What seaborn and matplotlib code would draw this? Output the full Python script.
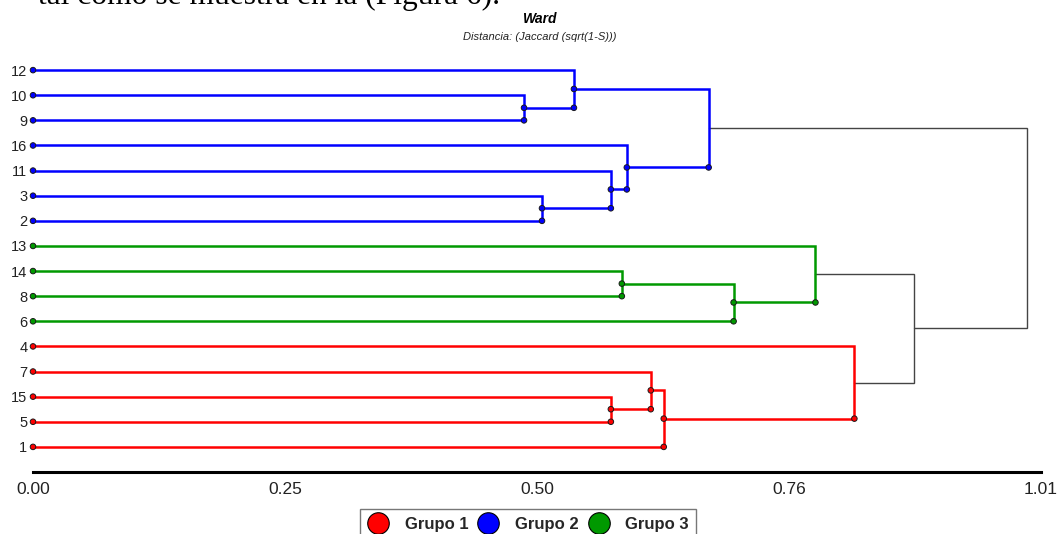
import numpy as np
import pandas as pd
import matplotlib
matplotlib.use("Agg")
import matplotlib.pyplot as plt
import seaborn as sns
from matplotlib.lines import Line2D

# ---------------- data ----------------
leaf_labels = ["12", "10", "9", "16", "11", "3", "2", "13", "14", "8", "6", "4", "7", "15", "5", "1"]
leaf_groups = ["Grupo 2"] * 7 + ["Grupo 3"] * 4 + ["Grupo 1"] * 5

node_ids    = ["A", "B", "C", "D", "E", "F", "G", "H", "I", "J", "K", "L", "M", "N", "O"]
node_left   = ["10", "12", "3", "11", "16", "B", "14", "G", "13", "15", "7", "K", "4", "I", "F"]
node_right  = ["9", "A", "2", "C", "D", "E", "8", "6", "H", "5", "J", "1", "L", "M", "N"]
node_height = [0.492, 0.542, 0.510, 0.579, 0.595, 0.677, 0.590, 0.702, 0.784,
               0.579, 0.619, 0.632, 0.823, 0.883, 0.996]

tick_values = [0.0, 0.2525, 0.505, 0.7575, 1.01]
tick_labels = ["0.00", "0.25", "0.50", "0.76", "1.01"]

group_names  = ["Grupo 1", "Grupo 2", "Grupo 3"]
group_colors = ["#ff0000", "#0000ff", "#009900"]
link_color = "#444444"

title_text = "Ward"
subtitle_text = "Distancia: (Jaccard (sqrt(1-S)))"
page_text = "tal como se muestra en la (Figura 6)."

# ---------------- geometry from the tree ----------------
pos = {lab: (0.0, float(i)) for i, lab in enumerate(leaf_labels)}
grp = {lab: g for lab, g in zip(leaf_labels, leaf_groups)}
parent = {}
for nid, l, r in zip(node_ids, node_left, node_right):
    parent[l] = nid
    parent[r] = nid

segs = []
for nid, l, r, h in zip(node_ids, node_left, node_right, node_height):
    (xl, yl), (xr, yr) = pos[l], pos[r]
    g = grp[l] if grp[l] == grp[r] else "link"
    grp[nid] = g
    pos[nid] = (h, (yl + yr) / 2)
    for k, (x, y) in enumerate([(xl, yl), (h, yl), (h, yr), (xr, yr)]):
        segs.append({"seg": nid, "order": k, "x": x, "y": y, "grp": g})
seg_df = pd.DataFrame(segs)

dots = [{"x": 0.0, "y": float(i), "grp": g} for i, g in enumerate(leaf_groups)]
for nid, l, r, h in zip(node_ids, node_left, node_right, node_height):
    g = grp[nid]
    if g == "link":
        continue
    dots.append({"x": h, "y": pos[r][1], "grp": g})
    par = parent.get(nid)
    if par is not None and grp[par] != "link":
        dots.append({"x": h, "y": pos[nid][1], "grp": g})
dot_df = pd.DataFrame(dots)

palette = dict(zip(group_names, group_colors))

# ---------------- plot ----------------
sns.set_style("white")
plt.rcParams["font.family"] = ["Liberation Sans", "DejaVu Sans"]

W, H = 1061, 534
fig = plt.figure(figsize=(W / 100, H / 100), dpi=100)
ax = fig.add_axes([33 / W, 1 - 472 / H, 1008 / W, 427 / H])

col_df = seg_df[seg_df["grp"] != "link"]
lnk_df = seg_df[seg_df["grp"] == "link"]
sns.lineplot(data=col_df, x="x", y="y", units="seg", estimator=None, sort=False,
             hue="grp", palette=palette, linewidth=1.8, legend=False, ax=ax,
             solid_joinstyle="miter", zorder=3)
sns.lineplot(data=lnk_df, x="x", y="y", units="seg", estimator=None, sort=False,
             color=link_color, linewidth=1.0, legend=False, ax=ax,
             solid_joinstyle="miter", zorder=2)
sns.scatterplot(data=dot_df, x="x", y="y", hue="grp", palette=palette, s=16,
                edgecolor="#1a1a1a", linewidth=0.7, legend=False, ax=ax,
                zorder=5, clip_on=False)

ax.set_xlim(0, 1.01)
ax.set_ylim(16, -1)
ax.set_xticks(tick_values, tick_labels)
ax.set_yticks(range(len(leaf_labels)), leaf_labels)
ax.set_xlabel("")
ax.set_ylabel("")
for s in ["top", "right", "left"]:
    ax.spines[s].set_visible(False)
ax.spines["bottom"].set_linewidth(2.2)
ax.spines["bottom"].set_color("black")
ax.tick_params(axis="x", direction="out", length=3, width=1.8, labelsize=12.5,
               pad=4.5, colors="black", labelcolor="#222222")
ax.tick_params(axis="y", length=0, labelsize=10.5, pad=4, labelcolor="#222222")

# texts
fig.text(38 / W, 1 - 4 / H, page_text, family="Liberation Serif", fontsize=22.7,
         ha="left", va="baseline", color="black")
fig.text(540 / W, 1 - 19 / H, title_text, fontsize=10, fontweight="bold",
         fontstyle="italic", ha="center", va="center", color="black")
fig.text(540 / W, 1 - 37 / H, subtitle_text, fontsize=8, fontstyle="italic",
         ha="center", va="center", color="#222222")

# legend
handles = [Line2D([], [], ls="", marker="o", markersize=15.5, markerfacecolor=c,
                  markeredgecolor="black", markeredgewidth=0.8) for c in group_colors]
fig.legend(handles, group_names, loc="upper center", bbox_to_anchor=(528 / W, 1 - 509 / H),
           ncol=3, frameon=True, fancybox=False, edgecolor="#555555",
           prop={"weight": "bold", "size": 12}, handlelength=1.3, handletextpad=0.95,
           columnspacing=0.55, borderpad=0.45, borderaxespad=0)

fig.savefig("out.png", dpi=100)
